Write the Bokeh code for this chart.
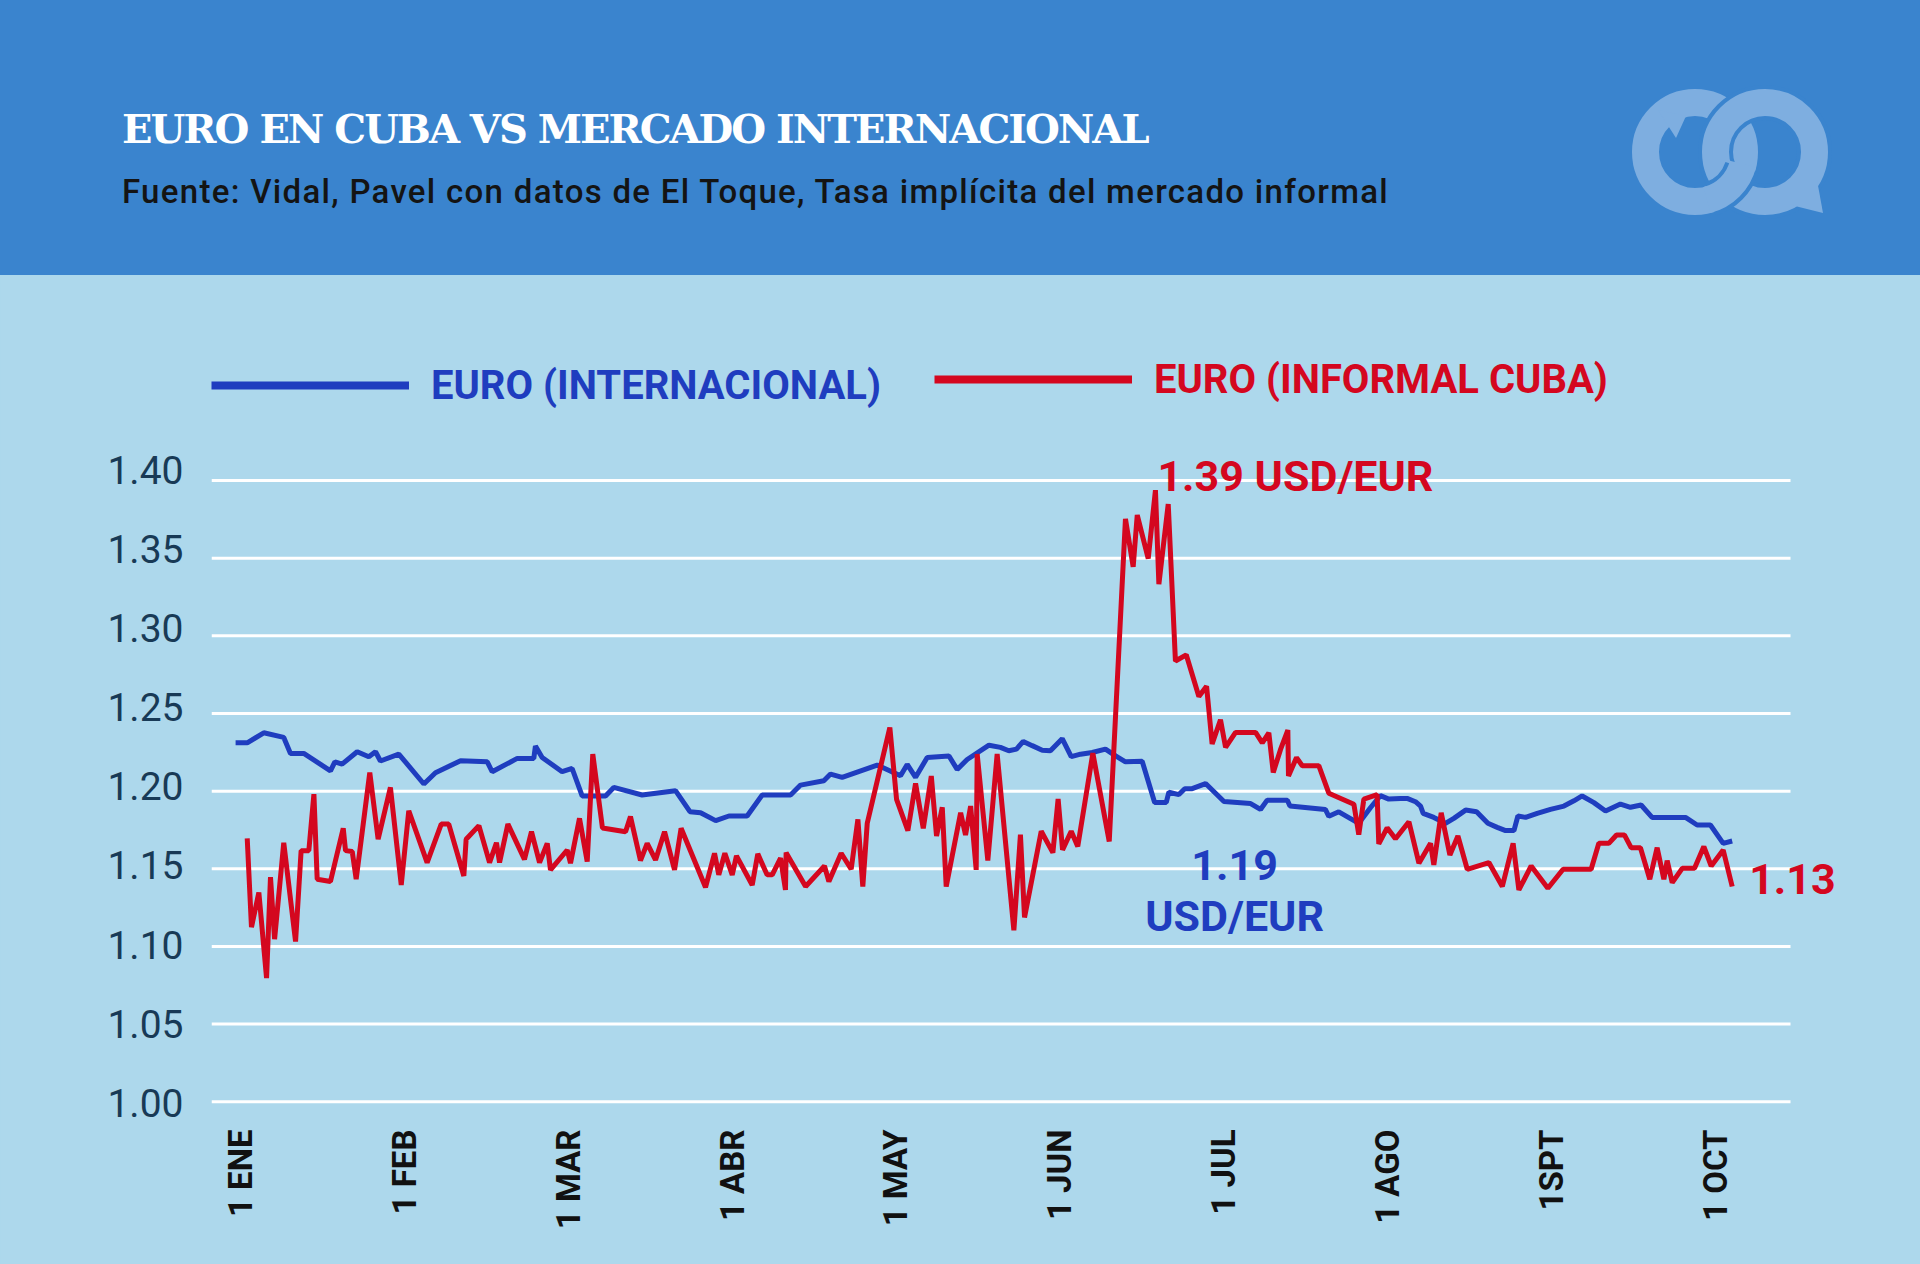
import math
from bokeh.plotting import figure
from bokeh.layouts import column
from bokeh.models import Range1d, FixedTicker, Label, Legend, LegendItem, Div
from bokeh.embed import file_html
from bokeh.resources import INLINE

# ---------------- data ----------------
TITLE = "EURO EN CUBA VS MERCADO INTERNACIONAL"
SUBTITLE = "Fuente: Vidal, Pavel con datos de El Toque, Tasa implícita del mercado informal"

month_ticks = [0, 1, 2, 3, 4, 5, 6, 7, 8, 9]
month_labels = ["1 ENE", "1 FEB", "1 MAR", "1 ABR", "1 MAY", "1 JUN", "1 JUL", "1 AGO", "1SPT", "1 OCT"]
y_ticks = [1.00, 1.05, 1.10, 1.15, 1.20, 1.25, 1.30, 1.35, 1.40]
y_tick_labels = ["1.00", "1.05", "1.10", "1.15", "1.20", "1.25", "1.30", "1.35", "1.40"]

series_names = ["EURO (INTERNACIONAL)", "EURO (INFORMAL CUBA)"]

# x in months since 1 January (1 ENE = 0)
blue_x = [-0.030, 0.041, 0.142, 0.264, 0.305, 0.386, 0.549, 0.576, 0.620, 0.712, 0.783, 0.824, 0.854,
          0.966, 1.119, 1.190, 1.343, 1.506, 1.536, 1.689, 1.790, 1.800, 1.841, 1.963, 2.024, 2.085,
          2.228, 2.278, 2.451, 2.655, 2.743, 2.808, 2.900, 2.981, 3.092, 3.184, 3.357, 3.418, 3.560,
          3.601, 3.672, 3.886, 4.028, 4.069, 4.120, 4.191, 4.324, 4.374, 4.435, 4.568, 4.638, 4.689,
          4.736, 4.777, 4.832, 4.893, 4.943, 5.015, 5.070, 5.127, 5.198, 5.279, 5.341, 5.401, 5.503,
          5.579, 5.650, 5.666, 5.727, 5.763, 5.808, 5.890, 6.002, 6.165, 6.225, 6.266, 6.389, 6.405,
          6.621, 6.642, 6.703, 6.825, 6.896, 6.957, 7.008, 7.080, 7.120, 7.171, 7.202, 7.218, 7.283,
          7.354, 7.405, 7.477, 7.544, 7.613, 7.670, 7.721, 7.772, 7.796, 7.843, 7.914, 7.995, 8.077,
          8.138, 8.188, 8.260, 8.331, 8.422, 8.483, 8.548, 8.615, 8.819, 8.890, 8.971, 9.049, 9.104]
blue_y = [1.2311, 1.2311, 1.2376, 1.2346, 1.2243, 1.2243, 1.2131, 1.2189, 1.2174, 1.2254, 1.2221, 1.2254, 1.2194,
          1.2239, 1.2046, 1.2119, 1.2196, 1.2189, 1.2125, 1.2211, 1.2211, 1.2290, 1.2217, 1.2125, 1.2146, 1.1969,
          1.1969, 1.2024, 1.1975, 1.2003, 1.1868, 1.1861, 1.1810, 1.1840, 1.1840, 1.1975, 1.1975, 1.2039, 1.2067,
          1.2110, 1.2089, 1.2168, 1.2099, 1.2172, 1.2089, 1.2217, 1.2226, 1.2140, 1.2204, 1.2296, 1.2282, 1.2260,
          1.2271, 1.2320, 1.2293, 1.2264, 1.2260, 1.2338, 1.2222, 1.2238, 1.2249, 1.2271, 1.2227, 1.2189, 1.2193,
          1.1927, 1.1927, 1.1993, 1.1978, 1.2016, 1.2016, 1.2049, 1.1933, 1.1920, 1.1882, 1.1942, 1.1942, 1.1904,
          1.1882, 1.1838, 1.1867, 1.1793, 1.1893, 1.1971, 1.1949, 1.1953, 1.1953, 1.1932, 1.1904, 1.1857, 1.1831,
          1.1793, 1.1825, 1.1878, 1.1868, 1.1793, 1.1767, 1.1746, 1.1746, 1.1840, 1.1831, 1.1857, 1.1883, 1.1904,
          1.1938, 1.1969, 1.1926, 1.1872, 1.1917, 1.1896, 1.1911, 1.1831, 1.1831, 1.1782, 1.1782, 1.1664, 1.1679]

red_x = [0.041, 0.067, 0.112, 0.159, 0.183, 0.208, 0.264, 0.336, 0.370, 0.417, 0.448, 0.468, 0.549, 0.627,
         0.641, 0.682, 0.706, 0.789, 0.840, 0.915, 0.981, 1.027, 1.139, 1.225, 1.271, 1.363, 1.377, 1.455,
         1.520, 1.562, 1.581, 1.632, 1.733, 1.776, 1.825, 1.872, 1.892, 1.994, 2.014, 2.069, 2.116, 2.150,
         2.209, 2.350, 2.380, 2.441, 2.482, 2.533, 2.588, 2.649, 2.689, 2.838, 2.893, 2.919, 2.956, 3.001,
         3.027, 3.123, 3.157, 3.214, 3.245, 3.296, 3.326, 3.330, 3.449, 3.564, 3.591, 3.666, 3.727, 3.768,
         3.798, 3.825, 3.963, 4.004, 4.073, 4.120, 4.167, 4.216, 4.248, 4.283, 4.307, 4.395, 4.425, 4.456,
         4.490, 4.496, 4.561, 4.618, 4.720, 4.760, 4.785, 4.887, 4.958, 4.990, 5.017, 5.070, 5.110, 5.202,
         5.302, 5.401, 5.448, 5.473, 5.540, 5.584, 5.605, 5.662, 5.706, 5.772, 5.849, 5.896, 5.930, 5.981,
         6.012, 6.073, 6.195, 6.236, 6.276, 6.303, 6.347, 6.392, 6.396, 6.445, 6.480, 6.581, 6.642, 6.795,
         6.825, 6.856, 6.937, 6.947, 6.998, 7.049, 7.131, 7.192, 7.263, 7.283, 7.328, 7.381, 7.430, 7.487,
         7.619, 7.701, 7.767, 7.802, 7.877, 7.979, 8.072, 8.243, 8.290, 8.351, 8.398, 8.446, 8.487, 8.544,
         8.601, 8.646, 8.687, 8.707, 8.738, 8.799, 8.874, 8.931, 8.976, 9.049, 9.104]
red_y = [1.1696, 1.1124, 1.1347, 1.0796, 1.1446, 1.1047, 1.1668, 1.1032, 1.1617, 1.1617, 1.1981, 1.1433, 1.1418, 1.1761,
         1.1617, 1.1611, 1.1433, 1.2119, 1.1690, 1.2024, 1.1396, 1.1874, 1.1540, 1.1788, 1.1788, 1.1454, 1.1690, 1.1778,
         1.1540, 1.1668, 1.1540, 1.1788, 1.1561, 1.1739, 1.1540, 1.1664, 1.1493, 1.1621, 1.1536, 1.1825, 1.1546, 1.2239,
         1.1763, 1.1739, 1.1836, 1.1553, 1.1664, 1.1557, 1.1739, 1.1493, 1.1761, 1.1381, 1.1600, 1.1461, 1.1600, 1.1461,
         1.1583, 1.1396, 1.1596, 1.1461, 1.1461, 1.1568, 1.1364, 1.1604, 1.1386, 1.1518, 1.1418, 1.1600, 1.1497, 1.1818,
         1.1386, 1.1793, 1.2410, 1.1947, 1.1746, 1.2050, 1.1761, 1.2097, 1.1711, 1.1896, 1.1386, 1.1861, 1.1718, 1.1904,
         1.1493, 1.2239, 1.1553, 1.2239, 1.1104, 1.1720, 1.1187, 1.1742, 1.1604, 1.1949, 1.1622, 1.1742, 1.1644, 1.2244,
         1.1676, 1.3753, 1.3444, 1.3778, 1.3498, 1.3938, 1.3333, 1.3849, 1.2838, 1.2878, 1.2609, 1.2676, 1.2304, 1.2460,
         1.2282, 1.2378, 1.2378, 1.2311, 1.2376, 1.2120, 1.2267, 1.2393, 1.2098, 1.2216, 1.2164, 1.2164, 1.1987, 1.1916,
         1.1720, 1.1949, 1.1978, 1.1660, 1.1764, 1.1693, 1.1803, 1.1536, 1.1664, 1.1525, 1.1861, 1.1589, 1.1711, 1.1497,
         1.1540, 1.1386, 1.1664, 1.1364, 1.1518, 1.1375, 1.1497, 1.1497, 1.1664, 1.1664, 1.1718, 1.1718, 1.1636, 1.1636,
         1.1433, 1.1636, 1.1433, 1.1553, 1.1411, 1.1503, 1.1503, 1.1643, 1.1518, 1.1621, 1.1386]

# ---------------- styles ----------------
HEADER = "#3A84CE"
BG = "#ADD8EC"
BLUE = "#1F3DBF"
RED = "#D4071F"
LOGO = "#7EAEE0"
YLAB = "#183A56"

X_START, X_END = -0.177, 9.826
GRID_END = 9.46
W = 1920
HEAD_H = 275
MAIN_H = 1264 - HEAD_H

# ---------------- header (HTML block) ----------------
def arc(cx, cy, r, a1, a2):
    x1, y1 = cx + r * math.cos(math.radians(a1)), cy + r * math.sin(math.radians(a1))
    x2, y2 = cx + r * math.cos(math.radians(a2)), cy + r * math.sin(math.radians(a2))
    return f"M {x1:.1f} {y1:.1f} A {r} {r} 0 0 1 {x2:.1f} {y2:.1f}"

LCX, RCX, CY = 1695, 1765, 152
logo_svg = (
    f'<svg style="position:absolute;left:0;top:0" width="{W}" height="{HEAD_H}">'
    f'<circle cx="{LCX}" cy="{CY}" r="49.5" fill="none" stroke="{LOGO}" stroke-width="27"/>'
    f'<circle cx="{RCX}" cy="{CY}" r="49.5" fill="none" stroke="{HEADER}" stroke-width="35"/>'
    f'<circle cx="{RCX}" cy="{CY}" r="49.5" fill="none" stroke="{LOGO}" stroke-width="27"/>'
    f'<path d="{arc(LCX, CY, 49.5, 18, 72)}" fill="none" stroke="{HEADER}" stroke-width="35"/>'
    f'<path d="{arc(LCX, CY, 49.5, 14, 76)}" fill="none" stroke="{LOGO}" stroke-width="27"/>'
    f'<polygon points="{LCX-37},{CY-42} {LCX-9},{CY-36} {LCX-19},{CY-14}" fill="{LOGO}"/>'
    f'<polygon points="{RCX+58},{CY+61} {RCX+52},{CY+28} {RCX+26},{CY+53}" fill="{LOGO}"/>'
    '</svg>'
)

header_html = (
    f'<div style="position:relative;width:{W}px;height:{HEAD_H}px;background:{HEADER};overflow:hidden;">'
    f'<div style="position:absolute;left:122px;top:109px;font-family:\'DejaVu Serif\';font-weight:bold;'
    f'font-size:40px;line-height:40px;letter-spacing:-2px;color:white;white-space:nowrap;">{TITLE}</div>'
    f'<div style="position:absolute;left:122px;top:175px;font-family:Roboto;font-weight:500;'
    f'font-size:33px;line-height:33px;letter-spacing:1.3px;color:#141414;white-space:nowrap;">{SUBTITLE}</div>'
    f'{logo_svg}</div>'
)
header = Div(text=header_html, width=W, height=HEAD_H, margin=(0, 0, 0, 0))

# ---------------- main chart ----------------
p = figure(width=W, height=MAIN_H, x_range=Range1d(X_START, X_END), y_range=Range1d(0.995, 1.4902),
           output_backend="svg", toolbar_location=None,
           min_border_left=211, min_border_right=70, min_border_top=65, min_border_bottom=155,
           background_fill_color=BG, border_fill_color=BG, outline_line_color=None)
p.styles = {"background-color": BG}

# the reference's value labels sit a little above their grid lines (more so at the top)
p.extra_y_ranges = {"ylab": Range1d(0.99583, 1.48147)}

p.xaxis.ticker = FixedTicker(ticks=month_ticks)
p.xaxis.major_label_overrides = {t: lab for t, lab in zip(month_ticks, month_labels)}
p.xaxis.major_label_orientation = math.pi / 2
p.xaxis.major_label_standoff = 20
p.xaxis.major_label_text_font = "Roboto"
p.xaxis.major_label_text_font_style = "bold"
p.xaxis.major_label_text_font_size = "33px"
p.xaxis.major_label_text_color = "#111111"

p.yaxis.y_range_name = "ylab"
p.yaxis.ticker = FixedTicker(ticks=y_ticks)
p.yaxis.major_label_overrides = {t: lab for t, lab in zip(y_ticks, y_tick_labels)}
p.yaxis.major_label_standoff = 28
p.yaxis.major_label_text_font = "Roboto"
p.yaxis.major_label_text_font_size = "39px"
p.yaxis.major_label_text_color = YLAB

for ax in (p.xaxis, p.yaxis):
    ax.axis_line_color = None
    ax.major_tick_line_color = None
    ax.minor_tick_line_color = None
    ax.major_tick_out = 0
    ax.major_tick_in = 0

p.xgrid.visible = False
p.ygrid.visible = False
# horizontal white grid lines at the y ticks, stopping before the right-hand labels
p.segment(x0=[X_START] * len(y_ticks), y0=y_ticks, x1=[GRID_END] * len(y_ticks), y1=y_ticks,
          line_color="white", line_width=3)

p.line(blue_x, blue_y, line_width=5, color=BLUE)
p.line(red_x, red_y, line_width=5, color=RED)

# legend (off-screen single-point renderers carry the thicker legend stroke)
nan = float("nan")
lb = p.line(x=[nan], y=[nan], line_width=8, color=BLUE)
lr = p.line(x=[nan], y=[nan], line_width=8, color=RED)
for rend, name, col, loc in ((lb, series_names[0], BLUE, (0, 700)), (lr, series_names[1], RED, (723, 706))):
    leg = Legend(items=[LegendItem(label=name, renderers=[rend])], location=loc, orientation="horizontal",
                 glyph_width=198, glyph_height=48, label_height=48, label_standoff=22,
                 padding=0, margin=0, spacing=0, border_line_color=None, background_fill_alpha=0,
                 label_text_font="Roboto", label_text_font_style="bold", label_text_font_size="40px",
                 label_text_color=col)
    p.add_layout(leg)

# annotations
imax = red_y.index(max(red_y))
p.add_layout(Label(x=red_x[imax], y=red_y[imax], x_offset=2, y_offset=14, text="1.39 USD/EUR", text_font="Roboto",
                   text_font_style="bold", text_font_size="43px", text_color=RED, text_baseline="alphabetic"))
p.add_layout(Label(x=red_x[-1], y=red_y[-1], x_offset=17, y_offset=8, text="1.13", text_font="Roboto",
                   text_font_style="bold", text_font_size="43px", text_color=RED, text_baseline="alphabetic"))
p.add_layout(Label(x=6.067, y=1.1424, y_offset=16, text="1.19", text_font="Roboto", text_align="center",
                   text_font_style="bold", text_font_size="43px", text_color=BLUE, text_baseline="alphabetic"))
p.add_layout(Label(x=6.067, y=1.1095, y_offset=16, text="USD/EUR", text_font="Roboto", text_align="center",
                   text_font_style="bold", text_font_size="43px", text_color=BLUE, text_baseline="alphabetic"))

layout = column(header, p, spacing=0)
open("out.html", "w").write(file_html(layout, INLINE))
